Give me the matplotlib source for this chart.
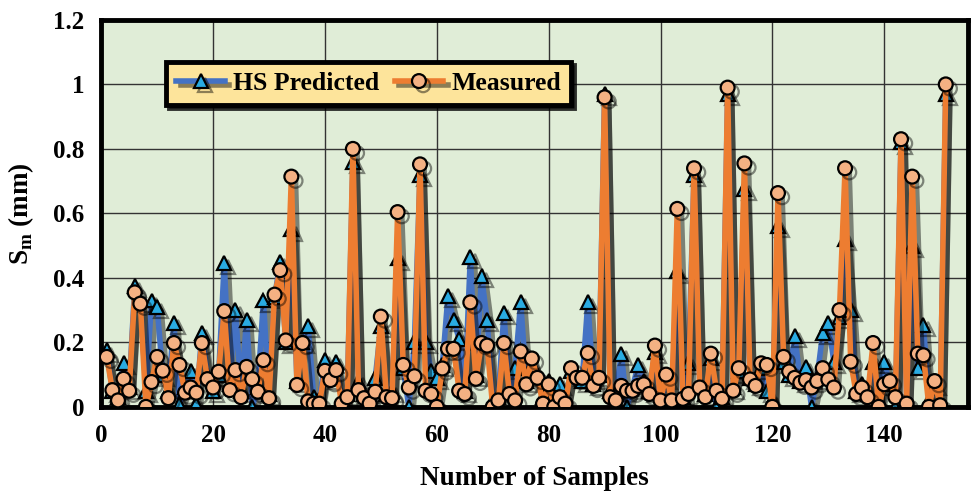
import numpy as np
import matplotlib
matplotlib.use("Agg")
import matplotlib.pyplot as plt
import matplotlib.patheffects as pe

# sample numbers 1..151
samples = np.arange(1, 152)

measured = [
    0.155, 0.052, 0.02, 0.087, 0.05, 0.355, 0.32, 0.0, 0.077, 0.155,
    0.112, 0.027, 0.198, 0.13, 0.044, 0.06, 0.044, 0.198, 0.086, 0.06,
    0.109, 0.297, 0.052, 0.114, 0.03, 0.124, 0.086, 0.047, 0.145, 0.027,
    0.348, 0.424, 0.206, 0.714, 0.068, 0.198, 0.017, 0.01, 0.01, 0.112,
    0.083, 0.114, 0.01, 0.03, 0.80, 0.052, 0.027, 0.01, 0.047, 0.28,
    0.03, 0.027, 0.604, 0.13, 0.06, 0.095, 0.752, 0.05, 0.04, 0.0,
    0.119, 0.18, 0.18, 0.05, 0.04, 0.324, 0.087, 0.198, 0.19, 0.0,
    0.02, 0.198, 0.04, 0.02, 0.172, 0.07, 0.15, 0.09, 0.01, 0.07,
    0.0, 0.03, 0.01, 0.12, 0.09, 0.09, 0.167, 0.065, 0.09, 0.96,
    0.03, 0.02, 0.065, 0.05, 0.05, 0.065, 0.07, 0.04, 0.19, 0.02,
    0.1, 0.02, 0.614, 0.025, 0.04, 0.74, 0.06, 0.03, 0.165, 0.05,
    0.025, 0.99, 0.05, 0.12, 0.755, 0.085, 0.065, 0.135, 0.13, 0.0,
    0.663, 0.155, 0.11, 0.09, 0.075, 0.083, 0.06, 0.08, 0.12, 0.085,
    0.06, 0.3, 0.74, 0.14, 0.04, 0.06, 0.03, 0.198, 0.0, 0.07,
    0.08, 0.03, 0.83, 0.01, 0.714, 0.165, 0.16, 0.0, 0.08, 0.005,
    1.0,
]

hs_predicted = [
    0.175, 0.05, 0.03, 0.135, 0.06, 0.375, 0.33, 0.05, 0.33, 0.31,
    0.1, 0.05, 0.26, 0.01, 0.06, 0.11, 0.01, 0.23, 0.1, 0.05,
    0.1, 0.447, 0.07, 0.30, 0.05, 0.27, 0.0, 0.06, 0.33, 0.04,
    0.34, 0.45, 0.2, 0.55, 0.08, 0.2, 0.25, 0.03, 0.02, 0.145,
    0.09, 0.14, 0.02, 0.04, 0.76, 0.08, 0.04, 0.02, 0.09, 0.25,
    0.04, 0.05, 0.46, 0.12, 0.0, 0.2, 0.72, 0.2, 0.11, 0.09,
    0.13, 0.345, 0.27, 0.21, 0.05, 0.465, 0.1, 0.405, 0.27, 0.02,
    0.03, 0.29, 0.05, 0.12, 0.325, 0.08, 0.13, 0.1, 0.03, 0.08,
    0.02, 0.07, 0.02, 0.11, 0.1, 0.08, 0.325, 0.07, 0.1, 0.97,
    0.05, 0.04, 0.165, 0.0, 0.06, 0.13, 0.08, 0.05, 0.17, 0.01,
    0.09, 0.03, 0.42, 0.03, 0.135, 0.72, 0.07, 0.04, 0.15, 0.0,
    0.03, 0.97, 0.06, 0.11, 0.675, 0.09, 0.07, 0.12, 0.05, 0.02,
    0.56, 0.14, 0.1, 0.22, 0.08, 0.125, 0.0, 0.09, 0.23, 0.26,
    0.14, 0.28, 0.52, 0.30, 0.05, 0.07, 0.04, 0.14, 0.01, 0.14,
    0.07, 0.0, 0.82, 0.02, 0.5, 0.12, 0.255, 0.02, 0.07, 0.01,
    0.97,
]

x_ticks = [0, 20, 40, 60, 80, 100, 120, 140]
y_ticks = [0, 0.2, 0.4, 0.6, 0.8, 1.0, 1.2]
y_labels = ["0", "0.2", "0.4", "0.6", "0.8", "1", "1.2"]

plt.rcParams['font.family'] = ['Liberation Serif', 'DejaVu Serif']
plt.rcParams['font.weight'] = 'bold'

fig = plt.figure(figsize=(9.73, 4.98), dpi=100)
ax = fig.add_axes([0.104, 0.183, 0.891, 0.777])
ax.set_facecolor('#e0edd7')

shadow = [pe.SimpleLineShadow(offset=(3, -3), shadow_color='black', alpha=0.45),
          pe.Normal()]

ax.plot(samples, hs_predicted, color='#4472c4', lw=4, marker='^', ms=10,
        mfc='#29abe2', mec='black', mew=1.6, label='HS Predicted',
        path_effects=shadow, zorder=3)
ax.plot(samples, measured, color='#ed7d31', lw=4, marker='o', ms=10,
        mfc='#f4b183', mec='black', mew=1.6, label='Measured',
        path_effects=shadow, zorder=4)

ax.set_xlim(0, 155)
ax.set_ylim(0, 1.2)
ax.set_xticks(x_ticks)
ax.set_yticks(y_ticks)
ax.set_yticklabels(y_labels)
ax.tick_params(length=0, labelsize=18)
ax.tick_params(axis='x', pad=12)
ax.tick_params(axis='y', pad=12)
for lab in ax.get_xticklabels() + ax.get_yticklabels():
    lab.set_fontweight('bold')

ax.grid(True, color='#333333', lw=1)
ax.set_axisbelow(True)
for sp in ax.spines.values():
    sp.set_linewidth(3.5)
    sp.set_color('black')

ax.set_xlabel('Number of Samples', fontsize=19.5, fontweight='bold', labelpad=14)
ax.set_ylabel(r'S$_\mathregular{m}$ (mm)', fontsize=19.5, fontweight='bold', labelpad=12)

leg = ax.legend(loc='upper left', bbox_to_anchor=(0.06, 0.925), ncol=2,
                frameon=True, fancybox=False, shadow={'color': 'black', 'alpha': 0.8},
                prop={'size': 18.5, 'weight': 'bold'}, handlelength=1.9,
                columnspacing=0.6, handletextpad=0.3, borderpad=0.4)
leg.get_frame().set_facecolor('#fde49b')
leg.get_frame().set_edgecolor('black')
leg.get_frame().set_linewidth(3.5)
leg.get_frame().set_alpha(1)
leg.set_zorder(10)

fig.savefig('out.png', dpi=100)
